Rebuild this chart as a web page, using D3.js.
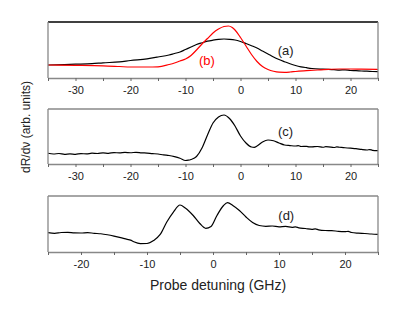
<!DOCTYPE html>
<html>
<head>
<meta charset="utf-8">
<script src="https://cdn.jsdelivr.net/npm/d3@7"></script>
<style>
  body { margin: 0; background: #fff; }
  text { font-family: "Liberation Sans", Arial, sans-serif; }
</style>
</head>
<body>
<svg id="chart"></svg>
<script>
// data: [detuning GHz, signal (arb. units, 0..100 of panel height)]
const curveA = [[-35,23.2],[-32,23.9],[-30,24.6],[-27,25.7],[-25,27.1],[-22,28.9],[-20,31.3],[-17,34.3],[-15,37.5],[-13,41.1],[-12,43.8],[-11,46.4],[-10,50.9],[-9,55.4],[-8,59.8],[-7,62.9],[-6,65.7],[-5,67.5],[-4,68.9],[-3,69.6],[-2,69.1],[-1,67.9],[0,65.2],[1,61.6],[2,57.7],[3,53.6],[4,48.2],[5,42.9],[6,37.5],[7,33.0],[8,29.1],[9,25.4],[10,22.3],[11,20.0],[12,18.4],[13,17.0],[15,15.7],[17,14.8],[18,14.2],[19,14.6],[20,13.4],[21,13.1],[22,12.5],[23,12.2],[24,11.6],[25,11.3]];

const curveB = [[-35,23.2],[-30,22.7],[-25,21.8],[-22,20.5],[-20,19.6],[-17,19.6],[-15,20.0],[-13,24.1],[-12,26.8],[-11,30.4],[-10,33.9],[-9,40.2],[-8,50.0],[-7,60.7],[-6,70.5],[-5,80.4],[-4,87.5],[-3,92.0],[-2.2,92.9],[-1.5,90.2],[-1,85.7],[0,72.3],[1,57.1],[2,42.0],[3,29.5],[4,20.5],[5,15.2],[6,12.0],[7,10.4],[8,10.2],[9,10.7],[10,11.6],[12,13.0],[14,14.3],[16,15.4],[18,16.1],[20,16.1],[22,15.7],[25,15.2]];

const curveC = [[-35,19.5],[-34,18.2],[-33,19.1],[-32,17.6],[-31,18.5],[-30,17.6],[-29,18.9],[-28,18.4],[-27,19.6],[-26,19.1],[-25,20.2],[-24,19.5],[-23,20.7],[-22,20.2],[-21,21.1],[-20,20.5],[-19,21.3],[-18,20.4],[-17,19.8],[-16,18.9],[-15,18.2],[-14,16.5],[-13,15.5],[-12,13.5],[-11,10.5],[-10,6.4],[-9.5,6.9],[-9,8.2],[-8,13.6],[-7,29.1],[-6,52.7],[-5,74.5],[-4,85.5],[-3,89.1],[-2,82.7],[-1,69.1],[0,50.9],[1,38.2],[2,30.9],[2.5,30.4],[3,32.7],[4,40.0],[5,43.6],[6,42.2],[7,38.2],[8,34.5],[9,33.5],[10,32.7],[10.5,33.4],[11,31.8],[12,32.2],[12.5,31.0],[13,31.1],[14,31.8],[15,30.5],[15.5,31.5],[16,31.3],[17,30.0],[17.5,31.0],[18,30.5],[19,29.5],[20,28.7],[21,28.0],[22,26.5],[23,25.5],[23.5,26.3],[24,24.9],[25,24.2]];

const curveD = [[-25,34.5],[-24,33.4],[-23,34.8],[-22,35.2],[-21,34.1],[-20,33.9],[-19,34.6],[-18,33.4],[-17,32.6],[-16,30.8],[-15,28.4],[-14,25.6],[-13,22.4],[-12.5,21.2],[-12,18.3],[-11,15.0],[-10,15.2],[-9,20.5],[-8,31.3],[-7,53.6],[-6,71.4],[-5,83.9],[-4.2,78.6],[-3,65.2],[-2,50.9],[-1.1,42.3],[-0.3,45.5],[0.6,65.2],[1.6,83.0],[2.2,88.0],[3,83.0],[4,74.1],[5,62.5],[6,52.7],[7,47.3],[8,45.9],[9,46.4],[10,45.0],[11,45.7],[12,44.1],[12.5,45.0],[13,43.2],[14,42.0],[15,40.5],[15.5,41.4],[16,39.6],[17,38.4],[18,38.2],[19,36.8],[20,36.3],[20.5,37.0],[21,34.8],[22,33.6],[23,33.0],[24,32.1],[25,31.6]];

const panelDomains = [[-35, 25], [-35, 25], [-25, 25]];
const tickValsTop = [-35,-30,-25,-20,-15,-10,-5,0,5,10,15,20,25];
const tickValsBottom = [-25,-20,-15,-10,-5,0,5,10,15,20,25];
const xTitle = 'Probe detuning (GHz)';
const yTitle = 'dR/d\u03bd (arb. units)';

const width = 395, height = 335;
const left = 48, right = 378;

const svg = d3.select('#chart')
  .attr('width', width)
  .attr('height', height);

// panel layout: top/bottom pixel of each frame
const panels = [
  { top: 22, bottom: 78, domain: panelDomains[0], ticks: tickValsTop,
    series: [{ d: curveA, color: '#000' }, { d: curveB, color: '#f00' }],
    labels: [{ t: '(a)', x: 8.2, y: 46.4, c: '#222' }, { t: '(b)', x: -6.1, y: 30, c: '#f00' }], topColor: '#000' },
  { top: 109, bottom: 164, domain: panelDomains[1], ticks: tickValsTop,
    series: [{ d: curveC, color: '#000' }],
    labels: [{ t: '(c)', x: 8.2, y: 57, c: '#222' }], topColor: '#888' },
  { top: 196, bottom: 252, domain: panelDomains[2], ticks: tickValsBottom,
    series: [{ d: curveD, color: '#000' }],
    labels: [{ t: '(d)', x: 11.1, y: 63, c: '#222' }], topColor: '#888' }
];

panels.forEach((p) => {
  const x = d3.scaleLinear().domain(p.domain).range([left, right]);
  const y = d3.scaleLinear().domain([0, 100]).range([p.bottom, p.top]);

  const line = d3.line()
    .x((d) => x(d[0]))
    .y((d) => y(d[1]))
    .curve(d3.curveMonotoneX);

  p.series.forEach((s) => {
    svg.append('path')
      .datum(s.d)
      .attr('fill', 'none')
      .attr('stroke', s.color)
      .attr('stroke-width', 1.2)
      .attr('d', line);
  });

  // frame
  svg.append('line').attr('x1', left).attr('x2', right).attr('y1', p.top).attr('y2', p.top)
    .attr('stroke', p.topColor).attr('stroke-width', 1.3);
  svg.append('line').attr('x1', left).attr('x2', left).attr('y1', p.top).attr('y2', p.bottom)
    .attr('stroke', '#888').attr('stroke-width', 1.3);
  svg.append('line').attr('x1', right).attr('x2', right).attr('y1', p.top).attr('y2', p.bottom)
    .attr('stroke', '#888').attr('stroke-width', 1.3);

  const xAxis = d3.axisBottom(x)
    .tickValues(p.ticks)
    .tickSize(3)
    .tickSizeOuter(0)
    .tickPadding(5)
    .tickFormat((d) => (d % 10 === 0 ? d : ''));

  const g = svg.append('g')
    .attr('transform', `translate(0, ${p.bottom})`)
    .call(xAxis);
  g.select('.domain').attr('stroke', '#888').attr('stroke-width', 1.6);
  g.selectAll('.tick line').attr('stroke', '#666');
  g.selectAll('.tick text')
    .attr('fill', '#222')
    .style('font-size', '11px')
    .style('font-family', '"Liberation Sans", Arial, sans-serif');

  p.labels.forEach((l) => {
    svg.append('text')
      .attr('x', x(l.x))
      .attr('y', y(l.y))
      .attr('text-anchor', 'middle')
      .attr('dominant-baseline', 'middle')
      .attr('fill', l.c)
      .style('font-size', '13px')
      .text(l.t);
  });
});

svg.append('text')
  .attr('x', 218)
  .attr('y', 290)
  .attr('text-anchor', 'middle')
  .attr('fill', '#222')
  .style('font-size', '14px')
  .text(xTitle);

svg.append('text')
  .attr('transform', 'rotate(-90)')
  .attr('x', -127)
  .attr('y', 30)
  .attr('text-anchor', 'middle')
  .attr('fill', '#222')
  .style('font-size', '12px')
  .text(yTitle);
</script>
</body>
</html>
